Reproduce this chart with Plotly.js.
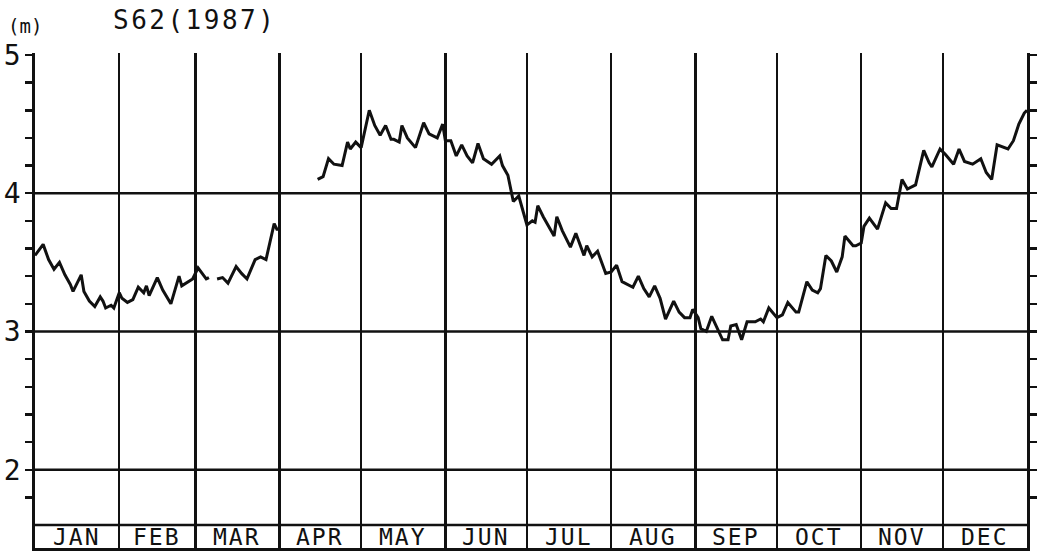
<!DOCTYPE html>
<html>
<head>
<meta charset="utf-8">
<script src="https://cdn.plot.ly/plotly-3.0.1.min.js"></script>
<style>
  html, body { margin: 0; padding: 0; background: #fff; }
  #chart { width: 1045px; height: 554px; }
</style>
</head>
<body>
<div id="chart"></div>
<script>
// ---- Data (water level in metres, 1987; day = days elapsed since Jan 1) ----
const titleText = 'S62(1987)';
const unitText = '(m)';
const monthNames = ['JAN','FEB','MAR','APR','MAY','JUN','JUL','AUG','SEP','OCT','NOV','DEC'];
const monthStarts = [0, 31, 59, 90, 120, 151, 181, 212, 243, 273, 304, 334, 365];

const days = [
  0, 3, 5, 7, 9, 11, 13, 14, 17, 18, 20, 22, 24, 25, 26, 28, 29, 31, 32, 34,
  36, 38, 40, 41, 42, 45, 47, 50, 53, 54, 58, 60, 63, 64,
  65,
  67, 69, 71, 74, 76, 78, 81, 83, 85, 86, 88, 89, 90,
  97,
  104, 106, 108, 110, 113, 115, 116, 118, 120, 123, 125, 127, 129, 131, 132, 134,
  135, 137, 140, 143, 145, 146, 148, 150, 151, 153, 155, 157, 159, 161, 163, 165,
  168, 171, 172, 174, 176, 178, 179, 181, 183, 184, 185, 187, 191, 192, 194, 197,
  199, 202, 203, 205, 207, 210, 212, 214, 216, 220, 222, 224, 226, 228, 230, 232,
  235, 237, 239, 241, 242, 244, 245, 247, 249, 251, 253, 255, 256, 258, 260, 262,
  265, 267, 268, 270, 273, 275, 277, 280, 281, 284, 286, 288, 289, 291, 293, 295,
  297, 298, 301, 302, 304, 305, 307, 310, 313, 315, 317, 319, 321, 324, 327, 329,
  330, 333, 335, 338, 340, 342, 345, 348, 350, 352, 354, 358, 360, 362, 364, 365
];
const level = [
  3.55, 3.63, 3.52, 3.45, 3.50, 3.41, 3.34, 3.29, 3.41, 3.29, 3.22, 3.18, 3.25, 3.22, 3.17, 3.19, 3.17, 3.28, 3.24, 3.21,
  3.23, 3.32, 3.28, 3.33, 3.26, 3.39, 3.30, 3.20, 3.40, 3.33, 3.38, 3.46, 3.38, 3.39,
  null,
  3.38, 3.39, 3.35, 3.47, 3.42, 3.38, 3.52, 3.54, 3.52, 3.60, 3.78, 3.74, 3.74,
  null,
  4.10, 4.12, 4.25, 4.21, 4.20, 4.37, 4.32, 4.37, 4.33, 4.60, 4.49, 4.42, 4.49, 4.39, 4.39, 4.37,
  4.49, 4.40, 4.33, 4.51, 4.43, 4.42, 4.40, 4.50, 4.38, 4.38, 4.27, 4.35, 4.27, 4.22, 4.36, 4.25,
  4.21, 4.27, 4.20, 4.13, 3.94, 3.98, 3.91, 3.77, 3.80, 3.79, 3.91, 3.83, 3.69, 3.83, 3.73, 3.61,
  3.71, 3.55, 3.62, 3.54, 3.58, 3.42, 3.43, 3.48, 3.36, 3.32, 3.40, 3.31, 3.25, 3.33, 3.24, 3.09,
  3.22, 3.14, 3.10, 3.10, 3.16, 3.10, 3.02, 3.00, 3.11, 3.02, 2.94, 2.94, 3.04, 3.05, 2.94, 3.07,
  3.07, 3.09, 3.07, 3.17, 3.10, 3.12, 3.21, 3.14, 3.14, 3.36, 3.30, 3.28, 3.31, 3.55, 3.51, 3.43,
  3.54, 3.69, 3.62, 3.62, 3.64, 3.76, 3.82, 3.74, 3.93, 3.89, 3.89, 4.10, 4.03, 4.06, 4.31, 4.22,
  4.19, 4.32, 4.28, 4.21, 4.32, 4.23, 4.21, 4.25, 4.15, 4.10, 4.35, 4.32, 4.38, 4.50, 4.58, 4.60
];

const yTickVals = [1.8, 2.0, 2.2, 2.4, 2.6, 2.8, 3.0, 3.2, 3.4, 3.6, 3.8, 4.0, 4.2, 4.4, 4.6, 4.8, 5.0];
const yTickText = ['', '2', '', '', '', '', '3', '', '', '', '', '4', '', '', '', '', '5'];
const hLines = [1.6, 2, 3, 4];
const yRange = [1.4336, 5.0145];

// ---- Build figure ----
const FONT = 'DejaVu Sans Mono, Liberation Mono, monospace';
const INK = '#111111';

const trace = {
  x: days, y: level, type: 'scatter', mode: 'lines',
  connectgaps: false,
  line: { color: INK, width: 3, shape: 'linear' },
  hoverinfo: 'skip', showlegend: false
};

const shapes = hLines.map(v => ({
  type: 'line', xref: 'paper', yref: 'y', x0: 0, x1: 1, y0: v, y1: v,
  line: { color: INK, width: 2.6 }, layer: 'above'
}));

const annotations = monthNames.map((m, i) => ({
  x: (monthStarts[i] + monthStarts[i + 1]) / 2, y: 1.515,
  xref: 'x', yref: 'y', text: '<span style="letter-spacing:2px">' + m + '</span>',
  showarrow: false, xanchor: 'center', yanchor: 'middle',
  font: { family: FONT, size: 23, color: INK }
}));
annotations.push({
  x: -0.029, y: 1.054, xref: 'paper', yref: 'paper', text: unitText,
  showarrow: false, xanchor: 'left', yanchor: 'middle',
  font: { family: FONT, size: 19, color: INK }
});

const layout = {
  width: 1045, height: 554,
  margin: { l: 35, r: 18, t: 53, b: 6, pad: 0 },
  paper_bgcolor: '#ffffff', plot_bgcolor: '#ffffff',
  showlegend: false,
  title: {
    text: '<span style="letter-spacing:2.5px">' + titleText + '</span>',
    xref: 'container', yref: 'container', x: 113 / 1045, xanchor: 'left',
    y: 1 - 11 / 554, yanchor: 'top',
    font: { family: FONT, size: 26, color: INK }
  },
  xaxis: {
    range: [monthStarts[0], monthStarts[12]],
    tickmode: 'array', tickvals: monthStarts.slice(1, 12),
    showticklabels: false, ticks: '',
    showgrid: true, gridcolor: INK, gridwidth: 2.4,
    zeroline: false, showline: true, linecolor: INK, linewidth: 2.6,
    mirror: false, fixedrange: true
  },
  yaxis: {
    range: yRange, tickmode: 'array', tickvals: yTickVals, ticktext: yTickText,
    ticks: 'outside', ticklen: 7, tickwidth: 2.4, tickcolor: INK,
    ticklabelstandoff: -1,
    tickfont: { family: FONT, size: 28, color: INK },
    showgrid: false, zeroline: false,
    showline: true, linecolor: INK, linewidth: 2.8, mirror: 'ticks',
    fixedrange: true
  },
  yaxis2: {
    range: yRange, overlaying: 'y', anchor: 'x', side: 'left',
    tickmode: 'array', tickvals: yTickVals,
    ticks: 'inside', ticklen: 7, tickwidth: 2.4, tickcolor: INK,
    showticklabels: false, showgrid: false, zeroline: false,
    showline: false, mirror: 'ticks', fixedrange: true
  },
  shapes: shapes,
  annotations: annotations
};

Plotly.newPlot('chart', [trace], layout, { staticPlot: true, displayModeBar: false });
</script>
</body>
</html>
